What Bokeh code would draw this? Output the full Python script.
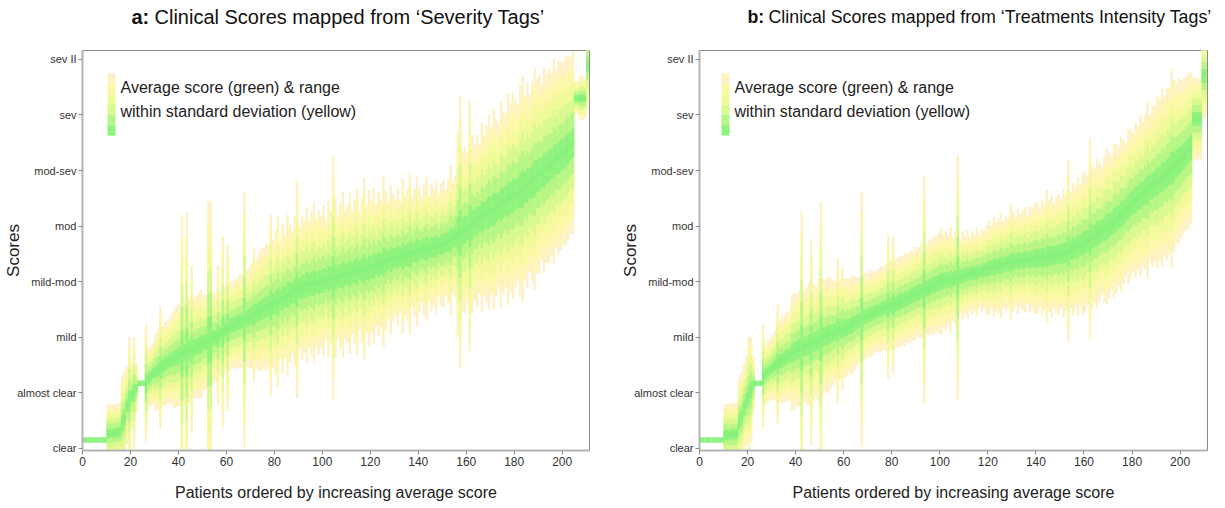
import math
from bokeh.plotting import figure
from bokeh.layouts import row, column
from bokeh.models import ColumnDataSource, FixedTicker, Label, BoxAnnotation, Range1d
from bokeh.core.properties import value
from bokeh.embed import file_html
from bokeh.resources import INLINE

# ---------------- data ----------------
score_levels = [0, 1, 2, 3, 4, 5, 6, 7]
score_labels = ["clear", "almost clear", "mild", "mild-mod", "mod", "mod-sev", "sev", "sev II"]
x_ticks = [0, 20, 40, 60, 80, 100, 120, 140, 160, 180, 200]

# Panel a: 'Severity Tags' -- average score and standard deviation per patient
sev_mean = [
    0.15, 0.15, 0.15, 0.15, 0.15, 0.15, 0.15, 0.15, 0.15, 0.15,
    0.27, 0.27, 0.27, 0.28, 0.28, 0.30, 0.45, 0.55, 0.77, 0.85,
    0.95, 1.0, 1.08, 1.17, 1.17, 1.17, 1.17, 1.25, 1.3, 1.35,
    1.38, 1.42, 1.45, 1.48, 1.52, 1.55, 1.58, 1.6, 1.62, 1.65,
    1.68, 1.7, 1.72, 1.74, 1.76, 1.78, 1.8, 1.83, 1.85, 1.88,
    1.9, 1.92, 1.94, 1.96, 1.98, 2.0, 2.03, 2.06, 2.1, 2.14,
    2.17, 2.2, 2.22, 2.24, 2.26, 2.28, 2.3, 2.32, 2.34, 2.36,
    2.38, 2.4, 2.43, 2.46, 2.49, 2.52, 2.54, 2.56, 2.58, 2.6,
    2.62, 2.64, 2.67, 2.7, 2.73, 2.76, 2.78, 2.8, 2.83, 2.86,
    2.88, 2.9, 2.92, 2.94, 2.95, 2.96, 2.97, 2.98, 2.99, 3.0,
    3.02, 3.04, 3.05, 3.06, 3.07, 3.08, 3.09, 3.1, 3.12, 3.13,
    3.14, 3.15, 3.16, 3.18, 3.19, 3.2, 3.21, 3.22, 3.23, 3.25,
    3.26, 3.28, 3.3, 3.31, 3.33, 3.35, 3.37, 3.38, 3.4, 3.42,
    3.43, 3.44, 3.45, 3.46, 3.47, 3.48, 3.5, 3.52, 3.53, 3.55,
    3.56, 3.57, 3.58, 3.59, 3.6, 3.61, 3.62, 3.63, 3.64, 3.66,
    3.68, 3.7, 3.72, 3.75, 3.78, 3.82, 3.85, 3.88, 3.9, 3.93,
    3.97, 4.0, 4.03, 4.06, 4.1, 4.13, 4.16, 4.19, 4.22, 4.25,
    4.27, 4.3, 4.33, 4.36, 4.39, 4.42, 4.45, 4.48, 4.52, 4.55,
    4.57, 4.6, 4.63, 4.67, 4.7, 4.73, 4.77, 4.8, 4.85, 4.9,
    4.93, 4.97, 5.0, 5.04, 5.08, 5.12, 5.16, 5.2, 5.23, 5.27,
    5.3, 5.35, 5.4, 5.45, 5.5,
    6.3, 6.3, 6.3, 6.3, 6.3,
    6.9,
]
sev_sd = [
    0, 0, 0, 0, 0, 0, 0, 0, 0, 0,
    0.52, 0.52, 0.52, 0.52, 0.52, 0.52, 0.85, 0.85, 0.7, 1.15,
    0.6, 1.0, 0.45, 0, 0, 0, 1.05, 0.55, 0.55, 0.55,
    0.7, 0.72, 1.1, 0.72, 0.75, 0.75, 0.78, 0.85, 0.9, 0.9,
    0.92, 2.5, 0.95, 2.5, 0.95, 1.5, 0.9, 0.92, 0.95, 0.98,
    0.85, 0.85, 2.5, 2.5, 0.82, 0.8, 1.25, 0.75, 1.72, 0.78,
    1.5, 0.8, 0.78, 0.8, 0.82, 0.85, 0.85, 2.3, 0.88, 0.9,
    0.95, 1.2, 1.0, 1.05, 1.1, 1.1, 1.15, 1.1, 1.63, 1.15,
    1.3, 1.55, 1.05, 1.35, 1.1, 1.45, 1.25, 1.1, 1.35, 1.95,
    1.1, 1.3, 1.2, 1.4, 1.15, 1.3, 1.45, 1.15, 1.3, 1.2,
    1.35, 1.05, 1.4, 1.2, 2.2, 1.45, 1.1, 1.3, 1.5, 1.15,
    1.25, 1.45, 1.1, 1.3, 1.5, 1.05, 1.3, 1.65, 1.15, 1.4,
    1.2, 1.4, 1.1, 1.3, 1.15, 1.55, 1.25, 1.05, 1.35, 1.15,
    1.05, 1.25, 1.0, 1.4, 1.1, 1.2, 1.45, 1.0, 1.15, 1.35,
    1.1, 0.95, 1.2, 1.3, 0.95, 1.15, 1.05, 1.2, 0.9, 1.1,
    1.15, 0.95, 1.1, 1.35, 1.0, 1.1, 1.85, 2.45, 1.45, 1.5,
    1.35, 2.25, 1.6, 1.4, 1.55, 1.35, 1.7, 1.45, 1.6, 1.75,
    1.5, 1.8, 1.6, 1.45, 1.85, 1.65, 1.55, 1.9, 1.7, 1.85,
    1.7, 1.6, 1.9, 2.05, 1.65, 1.85, 1.6, 1.8, 2.0, 1.75,
    1.8, 1.6, 1.85, 1.7, 1.75, 1.65, 1.85, 1.6, 1.75, 1.7,
    1.65, 1.7, 1.65, 1.6, 1.65,
    0.3, 0.3, 0.4, 0.4, 0.35,
    0.8,
]

# Panel b: 'Treatments Intensity Tags'
trt_mean = [
    0.15, 0.15, 0.15, 0.15, 0.15, 0.15, 0.15, 0.15, 0.15, 0.15,
    0.24, 0.24, 0.24, 0.25, 0.25, 0.26, 0.48, 0.55, 0.72, 0.85,
    0.96, 1.05, 1.14, 1.17, 1.17, 1.17, 1.3, 1.33, 1.38, 1.42,
    1.46, 1.5, 1.53, 1.56, 1.59, 1.62, 1.65, 1.68, 1.71, 1.74,
    1.77, 1.79, 1.81, 1.83, 1.85, 1.87, 1.89, 1.91, 1.93, 1.95,
    1.98, 2.0, 2.02, 2.04, 2.06, 2.08, 2.1, 2.12, 2.14, 2.15,
    2.16, 2.18, 2.2, 2.22, 2.25, 2.28, 2.3, 2.33, 2.36, 2.38,
    2.4, 2.42, 2.44, 2.46, 2.48, 2.5, 2.52, 2.54, 2.56, 2.57,
    2.58, 2.6, 2.62, 2.64, 2.66, 2.68, 2.7, 2.72, 2.75, 2.77,
    2.79, 2.81, 2.83, 2.85, 2.87, 2.89, 2.92, 2.94, 2.96, 2.98,
    3.0, 3.01, 3.02, 3.03, 3.04, 3.05, 3.07, 3.08, 3.09, 3.1,
    3.12, 3.13, 3.14, 3.15, 3.16, 3.17, 3.19, 3.2, 3.21, 3.22,
    3.24, 3.25, 3.26, 3.27, 3.28, 3.29, 3.31, 3.32, 3.33, 3.34,
    3.36, 3.37, 3.37, 3.38, 3.38, 3.39, 3.4, 3.4, 3.41, 3.41,
    3.42, 3.43, 3.43, 3.44, 3.45, 3.46, 3.46, 3.47, 3.48, 3.49,
    3.5, 3.51, 3.53, 3.55, 3.57, 3.59, 3.61, 3.63, 3.66, 3.68,
    3.71, 3.74, 3.77, 3.8, 3.83, 3.86, 3.89, 3.92, 3.95, 3.98,
    4.01, 4.05, 4.09, 4.13, 4.17, 4.21, 4.25, 4.3, 4.35, 4.4,
    4.43, 4.47, 4.51, 4.55, 4.58, 4.62, 4.65, 4.69, 4.72, 4.76,
    4.79, 4.83, 4.87, 4.91, 4.95, 4.99, 5.04, 5.08, 5.13, 5.17,
    5.21, 5.26, 5.31, 5.36, 5.41,
    5.93, 5.93, 5.93, 5.93,
    6.7, 6.7,
]
trt_sd = [
    0, 0, 0, 0, 0, 0, 0, 0, 0, 0,
    0.56, 0.56, 0.56, 0.56, 0.56, 0.56, 0.8, 0.8, 0.78, 0.8,
    1.04, 0.95, 0.5, 0, 0, 0, 0.95, 0.55, 0.55, 0.55,
    0.6, 0.62, 1.08, 0.75, 0.78, 0.78, 0.8, 0.8, 1.05, 1.05,
    1.0, 1.05, 2.45, 1.0, 1.05, 1.1, 1.85, 1.05, 1.0, 1.1,
    2.45, 1.05, 1.0, 1.05, 1.0, 0.95, 0.9, 1.3, 0.9, 1.1,
    0.9, 0.88, 0.85, 0.9, 0.85, 0.8, 0.78, 2.3, 0.8, 0.78,
    0.75, 0.78, 0.75, 0.72, 0.75, 0.78, 0.75, 0.78, 1.3, 0.8,
    1.25, 0.8, 0.8, 0.82, 0.8, 0.85, 0.8, 0.82, 0.8, 0.85,
    0.8, 0.82, 0.85, 2.05, 0.82, 0.85, 0.85, 0.9, 0.85, 0.9,
    0.95, 0.85, 0.9, 0.8, 0.95, 0.75, 0.85, 2.2, 0.65, 0.8,
    0.7, 0.8, 0.65, 0.75, 0.7, 0.8, 0.65, 0.75, 0.7, 0.8,
    0.85, 0.75, 0.9, 0.8, 0.85, 0.95, 0.78, 0.85, 0.8, 1.05,
    0.9, 0.8, 0.95, 0.85, 0.9, 0.95, 0.8, 0.95, 0.9, 1.0,
    1.0, 0.9, 1.05, 0.95, 1.2, 1.0, 1.1, 0.95, 1.05, 1.1,
    1.0, 1.15, 1.05, 1.65, 1.05, 1.2, 1.1, 1.25, 1.1, 1.3,
    1.25, 1.15, 1.8, 1.3, 1.2, 1.35, 1.25, 1.15, 1.3, 1.4,
    1.3, 1.2, 1.4, 1.35, 1.25, 1.4, 1.3, 1.2, 1.4, 1.35,
    1.25, 1.4, 1.3, 1.45, 1.3, 1.4, 1.6, 1.3, 1.45, 1.4,
    1.55, 1.45, 1.6, 1.45, 1.55, 1.5, 1.78, 1.55, 1.45, 1.5,
    1.42, 1.4, 1.38, 1.4, 1.36,
    0.75, 0.75, 0.72, 0.75,
    0.75, 0.75,
]

titles = [("a:", "Clinical Scores mapped from \u2018Severity Tags\u2019"),
          ("b:", "Clinical Scores mapped from \u2018Treatments Intensity Tags\u2019")]
legend_lines = ["Average score (green) & range", "within standard deviation (yellow)"]

# ---------------- style ----------------
FONT = "Liberation Sans"
band_colors = ["#fef1c4", "#fcf8a8", "#f1fa99", "#d8f98f", "#b6f686", "#8ef37e"]
center_color = "#86f27c"
CENTER_HALF = 0.05
TITLE_H = 40
MAIN_H = 466


def build_source(mean, sd):
    left, right, bottom, top, color = [], [], [], [], []
    n = len(mean)
    nb = len(band_colors)
    for k, c in enumerate(band_colors):
        frac = (nb - k) / nb
        for i in range(n):
            if sd[i] <= 0:
                continue
            h = sd[i] * frac
            left.append(i)
            right.append(i + 1)
            bottom.append(mean[i] - h)
            top.append(mean[i] + h)
            color.append(c)
    for i in range(n):
        left.append(i)
        right.append(i + 1)
        bottom.append(mean[i] - CENTER_HALF)
        top.append(mean[i] + CENTER_HALF)
        color.append(center_color)
    return ColumnDataSource(dict(left=left, right=right, bottom=bottom, top=top, color=color))


def make_panel(mean, sd, width, border_left, border_right, swatch_dx):
    p = figure(width=width, height=MAIN_H, output_backend="svg", toolbar_location=None,
               x_range=Range1d(0, 211.4), y_range=Range1d(-0.04, 7.16),
               min_border_left=border_left, min_border_right=border_right,
               min_border_top=10, min_border_bottom=56)
    p.background_fill_color = "white"
    p.border_fill_color = "white"
    p.outline_line_color = "#8a8a8a"
    p.outline_line_width = 1
    p.grid.visible = False

    src = build_source(mean, sd)
    p.quad(left="left", right="right", bottom="bottom", top="top", source=src,
           fill_color="color", line_color=None)

    for ax in (p.xaxis[0], p.yaxis[0]):
        ax.axis_line_color = "#b4b4b4"
        ax.axis_line_width = 2
        ax.major_tick_line_color = "#8a8a8a"
        ax.major_tick_out = 4
        ax.major_tick_in = 0
        ax.minor_tick_line_color = None
        ax.major_label_text_font = FONT
        ax.major_label_text_color = "#333333"
        ax.major_label_standoff = 2
        ax.axis_label_text_font = FONT
        ax.axis_label_text_font_style = "normal"
        ax.axis_label_text_color = "#222222"

    p.xaxis.ticker = FixedTicker(ticks=x_ticks)
    p.xaxis.major_label_text_font_size = "12px"
    p.yaxis.ticker = FixedTicker(ticks=score_levels)
    p.yaxis.major_label_overrides = {lv: lab for lv, lab in zip(score_levels, score_labels)}
    p.yaxis.major_label_text_font_size = "11px"

    p.xaxis.axis_label = "Patients ordered by increasing average score"
    p.xaxis.axis_label_text_font_size = "16px"
    p.xaxis.axis_label_standoff = 15

    p.yaxis.axis_label = "Scores"
    p.yaxis.axis_label_text_font_size = "17px"
    p.yaxis.axis_label_standoff = -9

    # legend swatch (gradient) and text
    top = 377
    step = 62 / len(band_colors)
    for k, c in enumerate(band_colors):
        p.add_layout(BoxAnnotation(left=swatch_dx, right=swatch_dx + 8,
                                   top=top - k * step, bottom=top - (k + 1) * step,
                                   left_units="screen", right_units="screen",
                                   top_units="screen", bottom_units="screen",
                                   fill_color=c, fill_alpha=1.0, line_color=None))
    for txt, yy in zip(legend_lines, (363, 339)):
        p.add_layout(Label(x=swatch_dx + 13, y=yy, x_units="screen", y_units="screen",
                           text=txt, text_align="left", text_baseline="middle",
                           text_font=FONT, text_font_size="16px", text_color="#222222"))
    return p


# title strip
tf = figure(width=1220, height=TITLE_H, output_backend="svg", toolbar_location=None,
            x_range=Range1d(0, 1220), y_range=Range1d(TITLE_H, 0),
            x_axis_type=None, y_axis_type=None, min_border=0)
tf.outline_line_color = None
tf.grid.visible = False
tf.background_fill_color = "white"
tf.border_fill_color = "white"
title_pos = [(131, 23, "20px"), (747, 21, "17.8px")]
for (tag, rest), (tx, dx, fs) in zip(titles, title_pos):
    tf.text(x=[tx], y=[16], text=[tag], text_font=value(FONT), text_font_style="bold",
            text_font_size=fs, text_color="#111111", text_baseline="middle", text_align="left")
    tf.text(x=[tx + dx], y=[16], text=[rest], text_font=value(FONT),
            text_font_size=fs, text_color="#111111", text_baseline="middle", text_align="left")

pa = make_panel(sev_mean, sev_sd, 618, 82, 29, 25)
pb = make_panel(trt_mean, trt_sd, 602, 81, 13, 22)

layout = column(tf, row(pa, pb))
open("out.html", "w").write(file_html(layout, INLINE))
